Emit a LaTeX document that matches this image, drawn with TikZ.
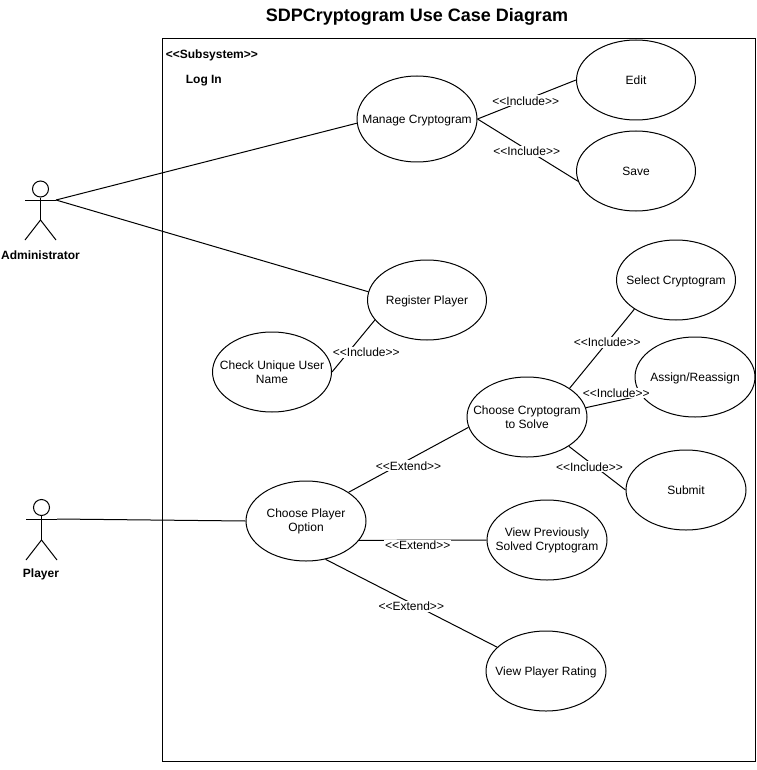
\documentclass[tikz,border=0pt]{standalone}
\usepackage{fontspec}
\setmainfont{Liberation Sans}
\usetikzlibrary{shapes.geometric}
\newcommand{\inclabel}{<{}<Include>{}>}
\newcommand{\extlabel}{<{}<Extend>{}>}
\tikzset{
    usecase/.style={draw, ellipse, minimum width=119pt, minimum height=80pt, inner xsep=-15pt, inner ysep=0pt, align=center, font=\fontsize{12}{14}\selectfont},
    oneline/.style={text depth=0pt},
    stereo/.style={fill=white, inner sep=1pt, font=\fontsize{12}{14}\selectfont},
    actorname/.style={font=\fontsize{12}{14}\selectfont\bfseries},
    actorhead/.style={draw, circle, minimum size=16pt, inner sep=0pt},
}
\begin{document}
\begin{tikzpicture}[x=1pt, y=-1pt, line width=1pt]
    \useasboundingbox (0, 0) rectangle (756, 770);
    \node[font=\fontsize{18}{20}\selectfont\bfseries] (title) at (417, 17) {SDPCryptogram Use Case Diagram};
    \node[draw, minimum width=593pt, minimum height=722pt, inner sep=0pt] (subsystem) at (458.5, 400) {};
    \node[actorname, anchor=west] (subsystemlabel) at (162, 55) {<{}<Subsystem>{}>};
    \node[actorname, anchor=west] (login) at (182, 81) {Log In};

    \node[usecase, oneline, minimum width=120pt, minimum height=86pt] (manage) at (417, 119) {Manage Cryptogram};
    \node[usecase] (edit) at (636, 80) {Edit};
    \node[usecase] (save) at (636, 171) {Save};
    \node[usecase, oneline] (register) at (427, 300) {Register Player};
    \node[usecase] (check) at (272, 372) {Check Unique User\\Name};
    \node[usecase, oneline] (select) at (676, 280) {Select Cryptogram};
    \node[usecase, oneline, minimum width=120pt] (assign) at (695, 377) {Assign/Reassign};
    \node[usecase, minimum width=120pt] (choose) at (527, 417) {Choose Cryptogram\\to Solve};
    \node[usecase, minimum width=120pt] (submit) at (686, 490) {Submit};
    \node[usecase, minimum width=120pt] (option) at (306, 521) {Choose Player\\Option};
    \node[usecase, minimum width=120pt] (previous) at (547, 540) {View Previously\\Solved Cryptogram};
    \node[usecase, oneline, minimum width=120pt] (rating) at (546, 671) {View Player Rating};

    \node[actorhead] (adminhead) at (40.5, 189) {};
    \coordinate (adminhip) at (40.5, 220);
    \coordinate (adminlhand) at (25, 200);
    \coordinate (adminhand) at (56, 200);
    \coordinate (adminlfoot) at (25, 240);
    \coordinate (adminrfoot) at (56, 240);
    \node[actorname] (administrator) at (40.5, 255) {Administrator};
    \draw[] (adminhead) -- (adminhip);
    \draw[] (adminlhand) -- (adminhand);
    \draw[] (adminlfoot) -- (adminhip) -- (adminrfoot);

    \node[actorhead] (playerhead) at (41.5, 507.5) {};
    \coordinate (playerhip) at (41.5, 540);
    \coordinate (playerlhand) at (26, 519);
    \coordinate (playerhand) at (57, 519);
    \coordinate (playerlfoot) at (26, 560);
    \coordinate (playerrfoot) at (57, 560);
    \node[actorname] (player) at (41, 574) {Player};
    \draw[] (playerhead) -- (playerhip);
    \draw[] (playerlhand) -- (playerhand);
    \draw[] (playerlfoot) -- (playerhip) -- (playerrfoot);

    \draw[] (adminhand) -- (manage.184);
    \draw[] (adminhand) -- (register.172);
    \draw[] (playerhand) -- (option.west);

    \draw[] (manage.east) -- node[stereo, pos=.49, yshift=-1pt] {\inclabel} (edit.west);
    \draw[] (manage.east) -- node[stereo, pos=.49, yshift=-2pt] {\inclabel} (save.190);
    \draw[] (check.east) -- node[stereo, pos=.38, xshift=18pt] {\inclabel} (register.201);
    \draw[] (choose.34) -- node[stereo, pos=.58] {\inclabel} (select.215);
    \draw[] (choose.9) -- node[stereo, pos=.55, yshift=8pt] {\inclabel} (assign.199);
    \draw[] (choose.-35) -- node[stereo, pos=.4, xshift=-2pt, yshift=-3pt] {\inclabel} (submit.west);
    \draw[] (option.34) -- node[stereo, pos=.5, yshift=-6pt] {\extlabel} (choose.190);
    \draw[] (option.-20) -- node[stereo, pos=.46, yshift=-5pt] {\extlabel} (previous.west);
    \draw[] (option.-63) -- node[stereo, pos=.5, yshift=-3pt] {\extlabel} (rating.154);
\end{tikzpicture}
\end{document}
